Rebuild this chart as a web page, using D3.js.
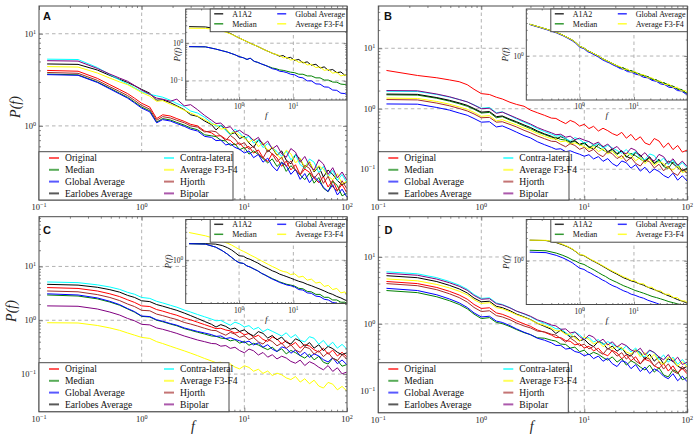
<!DOCTYPE html>
<html><head><meta charset="utf-8">
<script src="https://cdn.jsdelivr.net/npm/d3@7"></script>
<style>body{margin:0;background:#fff}svg{display:block}</style>
</head><body><svg id="chart" width="699" height="442"></svg>
<script>
// ---------- DATA ----------
const freq = [0.12,0.24,0.37,0.49,0.61,0.73,0.85,1.0,1.2,1.4,1.6,1.9,2.2,2.6,3.0,3.5,4.1,4.8,5.3,5.9,6.6,7.3,8.1,9.0,10,11.1,12.3,13.7,15.2,16.9,18.7,20.8,23.1,25.6,28.4,31.5,35,38.8,43.1,47.8,53.1,58.9,65.4,72.6,80.6,89.5,99.3];
const insetFreq = [0.12,0.24,0.37,0.49,0.61,0.73,0.85,1.0,1.2,1.4,1.6,1.9,2.2,2.6,3.0,3.5,4.1,4.8,5.6,6.5,7.6,8.9,10.5,12.6,15,18,21.5,26,31,37,44,53,63,75,89,100];
const seriesNames = ["Original","Median","Global Average","Earlobes Average","Contra-lateral","Average F3-F4","Hjorth","Bipolar"];
const seriesColors = ["#ff0000","#008000","#0000ff","#000000","#00ffff","#ffff00","#a52a2a","#800080"];
const insetNames = ["A1A2","Median","Global Average","Average F3-F4"];
const insetColors = ["#000000","#008000","#0000ff","#ffff00"];
const majorTicks = [0.01,0.1,1,10,100];
const panelLetters = ["A","B","C","D"];

// Panel A
const aOriginal = [4.00,3.92,3.28,2.80,2.48,2.24,2.00,1.76,1.60,1.20,1.32,1.28,1.20,1.12,1.04,1.00,0.88,0.84,0.775,0.784,0.717,0.696,0.623,0.655,0.570,0.599,0.507,0.549,0.453,0.411,0.501,0.449,0.364,0.415,0.333,0.379,0.295,0.340,0.314,0.270,0.242,0.282,0.217,0.257,0.199,0.231,0.190];
const aMedian = [3.65,3.58,3.00,2.56,2.26,2.04,1.82,1.60,1.46,1.10,1.20,1.16,1.09,1.02,0.95,0.91,0.80,0.78,0.765,0.699,0.686,0.614,0.640,0.551,0.584,0.494,0.535,0.488,0.442,0.396,0.439,0.363,0.405,0.321,0.370,0.332,0.294,0.261,0.307,0.239,0.275,0.211,0.193,0.251,0.225,0.174,0.186];
const aGlobal = [3.60,3.54,2.96,2.52,2.22,2.00,1.78,1.56,1.42,1.08,1.17,1.13,1.06,0.99,0.92,0.88,0.77,0.75,0.692,0.700,0.621,0.640,0.585,0.557,0.509,0.535,0.452,0.490,0.404,0.447,0.367,0.325,0.401,0.371,0.298,0.338,0.263,0.304,0.242,0.281,0.252,0.216,0.194,0.230,0.178,0.206,0.170];
const aEarlobes = [4.70,4.65,4.04,3.53,3.20,2.96,2.73,2.49,2.26,1.90,1.92,1.79,1.65,1.50,1.32,1.27,1.13,1.03,0.905,1.010,0.923,0.811,0.845,0.727,0.771,0.652,0.584,0.707,0.645,0.523,0.580,0.479,0.535,0.424,0.388,0.488,0.438,0.345,0.405,0.316,0.363,0.279,0.332,0.298,0.255,0.230,0.245];
const aContra = [5.30,5.25,4.30,3.60,3.15,2.85,2.60,2.35,2.20,2.12,2.05,1.90,1.75,1.62,1.45,1.38,1.24,1.08,0.997,1.008,0.894,0.801,0.921,0.842,0.733,0.770,0.651,0.705,0.582,0.644,0.578,0.528,0.468,0.534,0.429,0.487,0.379,0.348,0.437,0.404,0.311,0.363,0.279,0.330,0.256,0.297,0.244];
const aF3F4 = [4.40,4.35,3.75,3.30,3.00,2.80,2.55,2.30,2.10,1.85,1.88,1.72,1.62,1.48,1.38,1.28,1.17,1.05,1.030,0.923,0.941,0.826,0.861,0.786,0.741,0.665,0.720,0.595,0.657,0.533,0.591,0.488,0.433,0.545,0.498,0.396,0.446,0.352,0.413,0.322,0.370,0.338,0.285,0.260,0.303,0.234,0.250];
const aHjorth = [3.80,3.72,3.12,2.66,2.36,2.13,1.90,1.67,1.52,1.15,1.26,1.22,1.15,1.08,1.00,0.97,0.86,0.88,0.863,0.774,0.693,0.788,0.722,0.621,0.659,0.557,0.604,0.499,0.447,0.551,0.495,0.409,0.457,0.363,0.417,0.332,0.295,0.374,0.346,0.270,0.310,0.238,0.283,0.218,0.196,0.254,0.209];
const aBipolar = [5.10,5.05,4.20,3.65,3.30,3.05,2.75,2.45,2.20,2.00,1.95,1.85,1.95,1.65,1.70,1.50,1.30,1.15,1.061,1.073,0.952,0.981,0.853,0.897,0.820,0.781,0.693,0.751,0.620,0.685,0.562,0.615,0.498,0.457,0.568,0.519,0.404,0.466,0.370,0.331,0.430,0.386,0.297,0.352,0.273,0.316,0.260];
const aInA1A2 = [2.75,2.70,2.45,2.20,1.95,1.75,1.55,1.38,1.22,1.10,1.00,0.90,0.82,0.73,0.66,0.60,0.54,0.50,0.45,0.47,0.40,0.42,0.35,0.37,0.30,0.32,0.26,0.275,0.22,0.235,0.19,0.20,0.165,0.172,0.14,0.15];
const aInMedian = [0.81,0.80,0.70,0.63,0.58,0.53,0.49,0.44,0.41,0.37,0.40,0.33,0.31,0.28,0.26,0.24,0.22,0.21,0.195,0.19,0.18,0.17,0.165,0.15,0.15,0.135,0.135,0.12,0.12,0.105,0.105,0.093,0.092,0.082,0.08,0.074];
const aInGlobal = [0.81,0.80,0.70,0.63,0.58,0.53,0.49,0.44,0.41,0.37,0.40,0.33,0.31,0.28,0.26,0.235,0.21,0.20,0.18,0.175,0.165,0.15,0.145,0.125,0.12,0.10,0.10,0.083,0.082,0.069,0.068,0.057,0.056,0.047,0.046,0.041];
const aInF3F4 = [2.50,2.48,2.30,2.10,1.90,1.72,1.55,1.38,1.22,1.10,1.00,0.90,0.82,0.73,0.66,0.60,0.54,0.50,0.47,0.41,0.42,0.36,0.37,0.31,0.32,0.265,0.275,0.225,0.235,0.19,0.20,0.16,0.17,0.135,0.145,0.125];

// Panel B
const bOriginal = [4.30,3.55,3.25,3.00,2.80,2.50,2.10,1.78,1.72,1.55,1.45,1.28,1.18,1.10,0.95,0.86,0.78,0.700,0.692,0.624,0.568,0.641,0.596,0.517,0.553,0.470,0.513,0.428,0.476,0.434,0.389,0.361,0.407,0.326,0.377,0.302,0.344,0.272,0.253,0.322,0.293,0.228,0.272,0.211,0.247,0.192,0.207];
const bMedian = [1.70,1.68,1.49,1.34,1.21,1.10,0.98,0.85,0.87,0.71,0.74,0.65,0.59,0.52,0.47,0.415,0.375,0.340,0.336,0.311,0.303,0.276,0.290,0.251,0.269,0.228,0.249,0.231,0.208,0.189,0.211,0.175,0.198,0.158,0.183,0.167,0.147,0.132,0.156,0.123,0.142,0.111,0.103,0.132,0.120,0.093,0.100];
const bGlobal = [1.20,1.19,1.05,0.95,0.85,0.78,0.69,0.60,0.61,0.50,0.52,0.46,0.41,0.36,0.33,0.285,0.255,0.230,0.214,0.218,0.195,0.202,0.188,0.177,0.164,0.174,0.148,0.162,0.135,0.150,0.124,0.112,0.137,0.128,0.104,0.119,0.093,0.108,0.087,0.101,0.092,0.079,0.072,0.086,0.066,0.078,0.064];
const bEarlobes = [1.75,1.73,1.53,1.38,1.25,1.14,1.01,0.88,0.90,0.74,0.76,0.67,0.61,0.54,0.49,0.43,0.385,0.350,0.312,0.346,0.321,0.284,0.298,0.258,0.277,0.235,0.214,0.257,0.238,0.195,0.217,0.181,0.203,0.163,0.151,0.189,0.172,0.136,0.161,0.126,0.146,0.114,0.136,0.124,0.106,0.096,0.103];
const bContra = [1.95,1.93,1.72,1.56,1.42,1.30,1.16,1.02,1.05,0.86,0.89,0.77,0.68,0.60,0.54,0.47,0.42,0.380,0.353,0.360,0.321,0.293,0.334,0.310,0.272,0.288,0.245,0.267,0.223,0.248,0.226,0.204,0.184,0.212,0.171,0.196,0.154,0.143,0.179,0.168,0.130,0.153,0.119,0.141,0.110,0.129,0.106];
const bF3F4 = [1.50,1.48,1.32,1.19,1.07,0.98,0.87,0.75,0.77,0.63,0.66,0.59,0.54,0.48,0.44,0.39,0.35,0.320,0.316,0.285,0.293,0.260,0.273,0.253,0.236,0.215,0.235,0.196,0.218,0.178,0.198,0.165,0.149,0.186,0.172,0.138,0.157,0.124,0.147,0.116,0.134,0.124,0.104,0.097,0.113,0.088,0.094];
const bHjorth = [1.42,1.40,1.24,1.12,1.01,0.92,0.82,0.71,0.72,0.60,0.61,0.55,0.50,0.44,0.40,0.355,0.32,0.290,0.287,0.258,0.235,0.266,0.247,0.214,0.229,0.195,0.213,0.177,0.161,0.197,0.180,0.150,0.168,0.135,0.156,0.125,0.113,0.142,0.133,0.105,0.121,0.094,0.113,0.088,0.079,0.102,0.086];
const bBipolar = [2.00,1.98,1.75,1.58,1.42,1.30,1.15,1.00,1.02,0.84,0.88,0.78,0.70,0.62,0.56,0.49,0.44,0.400,0.372,0.379,0.338,0.352,0.308,0.326,0.303,0.286,0.258,0.281,0.234,0.261,0.215,0.238,0.194,0.180,0.223,0.206,0.162,0.188,0.151,0.137,0.176,0.161,0.125,0.149,0.116,0.136,0.112];
const bInA1A2 = [3.80,3.10,2.70,2.40,2.15,1.95,1.75,1.50,1.40,1.25,1.18,1.08,1.00,0.90,0.84,0.78,0.72,0.67,0.62,0.60,0.55,0.54,0.50,0.47,0.44,0.42,0.38,0.365,0.33,0.32,0.29,0.28,0.25,0.245,0.215,0.21];
const bInMedian = [3.80,3.10,2.70,2.40,2.15,1.95,1.75,1.50,1.40,1.25,1.18,1.08,1.00,0.90,0.84,0.78,0.72,0.67,0.62,0.60,0.55,0.54,0.50,0.47,0.44,0.42,0.38,0.365,0.33,0.32,0.29,0.28,0.25,0.245,0.215,0.21];
const bInGlobal = [3.75,3.05,2.65,2.35,2.10,1.90,1.70,1.45,1.36,1.20,1.14,1.04,0.96,0.86,0.80,0.75,0.69,0.64,0.59,0.57,0.52,0.51,0.47,0.45,0.41,0.40,0.36,0.345,0.31,0.30,0.27,0.265,0.235,0.23,0.205,0.20];
const bInF3F4 = [3.80,3.10,2.70,2.40,2.15,1.95,1.75,1.50,1.40,1.25,1.18,1.08,1.00,0.90,0.84,0.78,0.72,0.67,0.64,0.57,0.58,0.51,0.52,0.45,0.46,0.40,0.40,0.35,0.35,0.30,0.31,0.265,0.27,0.23,0.235,0.20];

// Panel C
const cOriginal = [4.05,3.90,3.50,3.10,2.75,2.40,2.15,1.85,1.80,1.58,1.48,1.34,1.24,1.10,1.02,0.92,0.83,0.750,0.698,0.710,0.659,0.635,0.578,0.612,0.536,0.569,0.483,0.527,0.440,0.404,0.489,0.446,0.364,0.418,0.338,0.387,0.304,0.353,0.331,0.283,0.257,0.302,0.234,0.279,0.217,0.254,0.210];
const cMedian = [2.95,2.82,2.50,2.18,1.90,1.62,1.42,1.18,1.15,1.00,0.94,0.85,0.79,0.70,0.65,0.60,0.555,0.510,0.504,0.467,0.454,0.414,0.435,0.376,0.403,0.343,0.374,0.347,0.312,0.284,0.316,0.263,0.296,0.237,0.275,0.250,0.220,0.198,0.235,0.184,0.213,0.166,0.154,0.198,0.180,0.140,0.150];
const cGlobal = [3.10,2.95,2.60,2.25,1.95,1.65,1.45,1.20,1.17,1.02,0.96,0.87,0.81,0.72,0.67,0.62,0.58,0.540,0.502,0.511,0.457,0.475,0.441,0.416,0.386,0.409,0.348,0.380,0.316,0.352,0.291,0.262,0.321,0.301,0.244,0.279,0.219,0.254,0.204,0.238,0.217,0.185,0.168,0.201,0.156,0.183,0.151];
const cEarlobes = [4.65,4.50,4.10,3.70,3.33,2.90,2.66,2.30,2.22,1.96,1.83,1.66,1.53,1.36,1.22,1.08,0.95,0.840,0.748,0.830,0.769,0.681,0.716,0.620,0.664,0.564,0.513,0.616,0.571,0.467,0.521,0.433,0.488,0.391,0.362,0.453,0.412,0.327,0.386,0.303,0.351,0.273,0.327,0.297,0.254,0.230,0.248];
const cContra = [5.15,5.00,4.55,4.15,3.75,3.30,3.05,2.65,2.55,2.25,2.10,1.90,1.75,1.55,1.42,1.28,1.16,1.050,0.977,0.994,0.888,0.809,0.923,0.857,0.751,0.796,0.676,0.738,0.615,0.685,0.624,0.565,0.509,0.585,0.474,0.542,0.425,0.396,0.495,0.463,0.359,0.422,0.328,0.391,0.303,0.356,0.294];
const cF3F4 = [0.90,0.89,0.80,0.72,0.65,0.58,0.53,0.48,0.46,0.40,0.37,0.33,0.30,0.27,0.245,0.22,0.195,0.175,0.163,0.166,0.148,0.154,0.135,0.125,0.143,0.133,0.113,0.123,0.103,0.114,0.094,0.104,0.097,0.085,0.079,0.090,0.071,0.082,0.066,0.077,0.060,0.055,0.070,0.065,0.051,0.059,0.049];
const cHjorth = [3.50,3.38,3.00,2.65,2.32,2.00,1.80,1.53,1.50,1.30,1.22,1.11,1.03,0.91,0.85,0.78,0.71,0.650,0.642,0.579,0.527,0.595,0.554,0.480,0.514,0.437,0.476,0.397,0.361,0.442,0.403,0.335,0.378,0.302,0.350,0.280,0.253,0.319,0.299,0.235,0.272,0.211,0.253,0.196,0.178,0.229,0.192];
const cBipolar = [1.85,1.82,1.62,1.42,1.25,1.08,0.98,0.84,0.82,0.72,0.68,0.62,0.57,0.51,0.47,0.43,0.40,0.370,0.366,0.330,0.339,0.300,0.315,0.273,0.249,0.292,0.271,0.226,0.252,0.206,0.229,0.191,0.215,0.199,0.172,0.159,0.182,0.144,0.170,0.155,0.134,0.120,0.144,0.112,0.131,0.101,0.109];
const cInA1A2 = [2.25,2.25,2.20,2.05,1.85,1.65,1.45,1.25,1.22,1.10,1.05,0.95,0.88,0.78,0.72,0.66,0.60,0.56,0.51,0.48,0.45,0.42,0.39,0.36,0.34,0.31,0.29,0.265,0.245,0.225,0.205,0.19,0.172,0.16,0.145,0.138];
const cInMedian = [2.25,2.20,1.90,1.60,1.35,1.15,1.00,0.89,0.86,0.76,0.72,0.65,0.60,0.53,0.49,0.45,0.41,0.38,0.35,0.33,0.31,0.30,0.285,0.255,0.25,0.22,0.215,0.19,0.19,0.165,0.165,0.145,0.145,0.13,0.13,0.12];
const cInGlobal = [2.25,2.20,1.90,1.60,1.35,1.15,1.00,0.89,0.86,0.76,0.72,0.65,0.60,0.53,0.49,0.44,0.40,0.37,0.34,0.32,0.30,0.29,0.275,0.24,0.235,0.205,0.20,0.175,0.17,0.15,0.145,0.128,0.124,0.11,0.107,0.10];
const cInF3F4 = [3.87,3.30,2.85,2.55,2.30,2.10,1.90,1.71,1.55,1.42,1.30,1.18,1.08,0.97,0.89,0.81,0.74,0.68,0.62,0.58,0.56,0.50,0.52,0.44,0.46,0.38,0.40,0.33,0.345,0.28,0.295,0.24,0.255,0.205,0.215,0.175];

// Panel D
const dOriginal = [4.30,4.00,3.50,3.07,2.70,2.34,1.95,1.70,1.74,1.46,1.39,1.25,1.11,1.00,0.92,0.81,0.75,0.680,0.623,0.624,0.562,0.549,0.485,0.505,0.436,0.463,0.394,0.432,0.360,0.333,0.402,0.367,0.301,0.346,0.280,0.322,0.254,0.295,0.277,0.237,0.216,0.254,0.197,0.236,0.184,0.216,0.180];
const dMedian = [3.15,2.93,2.54,2.22,1.95,1.68,1.40,1.20,1.24,1.05,1.01,0.91,0.82,0.74,0.69,0.62,0.61,0.570,0.554,0.499,0.492,0.434,0.449,0.384,0.404,0.344,0.376,0.351,0.314,0.287,0.321,0.268,0.302,0.242,0.281,0.257,0.226,0.204,0.242,0.190,0.221,0.172,0.161,0.206,0.189,0.146,0.158];
const dGlobal = [3.40,3.15,2.72,2.36,2.06,1.76,1.46,1.27,1.30,1.10,1.05,0.94,0.84,0.75,0.69,0.61,0.57,0.520,0.476,0.477,0.420,0.430,0.386,0.371,0.333,0.354,0.302,0.330,0.276,0.307,0.254,0.230,0.281,0.265,0.214,0.246,0.194,0.226,0.181,0.212,0.194,0.165,0.151,0.180,0.141,0.165,0.137];
const dEarlobes = [5.25,4.90,4.29,3.77,3.33,2.90,2.43,2.14,2.18,1.83,1.75,1.57,1.40,1.27,1.16,1.02,0.92,0.830,0.717,0.807,0.726,0.632,0.654,0.559,0.588,0.500,0.457,0.548,0.511,0.417,0.467,0.390,0.440,0.353,0.330,0.409,0.374,0.297,0.352,0.277,0.322,0.251,0.300,0.275,0.234,0.213,0.231];
const dContra = [6.00,5.60,4.90,4.30,3.80,3.30,2.75,2.40,2.45,2.05,1.95,1.75,1.55,1.40,1.28,1.12,1.02,0.920,0.843,0.845,0.742,0.656,0.760,0.684,0.590,0.627,0.534,0.584,0.488,0.544,0.497,0.450,0.407,0.468,0.379,0.436,0.343,0.320,0.399,0.374,0.293,0.343,0.267,0.319,0.249,0.293,0.243];
const dF3F4 = [4.70,4.40,3.88,3.45,3.08,2.72,2.30,2.02,2.07,1.75,1.68,1.52,1.37,1.25,1.15,1.02,0.95,0.860,0.788,0.789,0.694,0.710,0.613,0.551,0.639,0.586,0.499,0.546,0.456,0.508,0.421,0.464,0.438,0.380,0.354,0.408,0.321,0.373,0.299,0.350,0.273,0.249,0.321,0.298,0.233,0.273,0.227];
const dHjorth = [4.00,3.72,3.24,2.82,2.47,2.12,1.76,1.53,1.57,1.33,1.27,1.15,1.03,0.93,0.87,0.78,0.76,0.700,0.680,0.605,0.533,0.613,0.552,0.471,0.496,0.422,0.462,0.386,0.352,0.431,0.394,0.329,0.371,0.298,0.345,0.278,0.251,0.316,0.297,0.234,0.272,0.211,0.253,0.197,0.180,0.232,0.195];
const dBipolar = [5.70,5.33,4.67,4.12,3.65,3.18,2.66,2.33,2.38,2.00,1.92,1.73,1.55,1.42,1.30,1.15,1.06,0.960,0.933,0.829,0.840,0.732,0.756,0.646,0.579,0.680,0.634,0.529,0.591,0.483,0.540,0.451,0.509,0.473,0.408,0.381,0.433,0.344,0.407,0.372,0.321,0.290,0.348,0.271,0.318,0.247,0.267];
const dInA1A2 = [2.70,2.65,2.40,2.15,1.95,1.75,1.55,1.34,1.28,1.15,1.05,0.95,0.87,0.78,0.71,0.64,0.58,0.53,0.48,0.44,0.41,0.38,0.36,0.33,0.31,0.28,0.26,0.24,0.22,0.20,0.185,0.17,0.155,0.145,0.135,0.13];
const dInMedian = [1.66,1.62,1.45,1.30,1.17,1.05,0.98,0.89,0.84,0.76,0.70,0.63,0.57,0.51,0.47,0.42,0.385,0.355,0.325,0.30,0.28,0.26,0.24,0.225,0.21,0.195,0.18,0.17,0.16,0.15,0.14,0.133,0.126,0.12,0.115,0.11];
const dInGlobal = [1.52,1.48,1.30,1.15,1.02,0.91,0.80,0.70,0.66,0.59,0.55,0.49,0.45,0.40,0.37,0.33,0.30,0.28,0.255,0.235,0.22,0.20,0.19,0.175,0.165,0.15,0.14,0.13,0.12,0.112,0.105,0.098,0.093,0.088,0.084,0.08];
const dInF3F4 = [2.70,2.68,2.45,2.20,1.98,1.78,1.57,1.36,1.30,1.17,1.07,0.97,0.89,0.80,0.73,0.66,0.60,0.55,0.50,0.46,0.43,0.39,0.38,0.33,0.33,0.28,0.28,0.235,0.235,0.20,0.20,0.17,0.17,0.145,0.145,0.125];

const yDomains = [[0.157,20],[0.031,50],[0.02,84],[0.047,40]];
const insetYDomains = [[0.031,8.1],[0.158,7.2],[0.122,7.3],[0.122,7.3]];
const xDomain = [0.1,100];
const insetXDomain = [0.104,96];

// ---------- LAYOUT ----------
const panels = [
  {series:[aOriginal,aMedian,aGlobal,aEarlobes,aContra,aF3F4,aHjorth,aBipolar], inset:[aInA1A2,aInMedian,aInGlobal,aInF3F4],
   box:{x:39,y:6,w:308,h:194}, ib:{x:185.7,y:9,w:161,h:91}, leg:{w:194,h:48.3}, iyl:177, yLab:[15,107], xLab:null, insetYLabels:[1,0.1], letter:[43,19.5]},
  {series:[bOriginal,bMedian,bGlobal,bEarlobes,bContra,bF3F4,bHjorth,bBipolar], inset:[bInA1A2,bInMedian,bInGlobal,bInF3F4],
   box:{x:378.3,y:6,w:309,h:194}, ib:{x:526.3,y:9,w:161,h:91}, leg:{w:190.7,h:48.3}, iyl:505, yLab:null, xLab:null, insetYLabels:[1], letter:[384,19.5]},
  {series:[cOriginal,cMedian,cGlobal,cEarlobes,cContra,cF3F4,cHjorth,cBipolar], inset:[cInA1A2,cInMedian,cInGlobal,cInF3F4],
   box:{x:39,y:216.7,w:308,h:195}, ib:{x:185.7,y:219.5,w:161,h:84}, leg:{w:190,h:49}, iyl:168, yLab:[11,311], xLab:[193,431], insetYLabels:[1], letter:[43,234]},
  {series:[dOriginal,dMedian,dGlobal,dEarlobes,dContra,dF3F4,dHjorth,dBipolar], inset:[dInA1A2,dInMedian,dInGlobal,dInF3F4],
   box:{x:378.3,y:216.7,w:309,h:196}, ib:{x:526.3,y:219.5,w:161,h:85}, leg:{w:190,h:50}, iyl:506, yLab:null, xLab:[531.7,431], insetYLabels:[1], letter:[384.5,234]}
];

const SERIF = "Liberation Serif, DejaVu Serif, serif";
const SANS = "Liberation Sans, Arial, sans-serif";
const svg = d3.select("#chart");
svg.append("rect").attr("width",699).attr("height",442).attr("fill","#fff");

function minorVals(d){const o=[];for(let e=-3;e<=3;e++)for(let k=2;k<=9;k++){const v=k*Math.pow(10,e);if(v>d[0]&&v<d[1])o.push(v);}return o;}
function majorVals(d){return majorTicks.filter(v=>v>=d[0]*0.999&&v<=d[1]*1.001);}
function innerMajor(d){return majorTicks.filter(v=>v>d[0]*1.001&&v<d[1]*0.999);}
function supText(sel,v){
  const e=Math.round(Math.log10(v));
  sel.text("10");
  sel.append("tspan").attr("dy","-0.48em").attr("font-size","0.72em").text(e<0?"\u2212"+(-e):String(e));
}
function drawGrid(g,x,y,w,h){
  const gg=g.append("g").attr("stroke","#a0a0a0").attr("stroke-width",0.8).attr("stroke-dasharray","3.5,3");
  innerMajor(x.domain()).forEach(v=>gg.append("line").attr("x1",x(v)).attr("x2",x(v)).attr("y1",0).attr("y2",h));
  innerMajor(y.domain()).forEach(v=>gg.append("line").attr("y1",y(v)).attr("y2",y(v)).attr("x1",0).attr("x2",w));
}
function drawTicks(g,x,y,w,h,maj,min){
  const xd=x.domain(), yd=y.domain();
  const specs=[
    [d3.axisBottom(x),`translate(0,${h})`,majorVals(xd),maj],[d3.axisBottom(x),`translate(0,${h})`,minorVals(xd),min],
    [d3.axisTop(x),`translate(0,0)`,majorVals(xd),maj],[d3.axisTop(x),`translate(0,0)`,minorVals(xd),min],
    [d3.axisLeft(y),`translate(0,0)`,majorVals(yd),maj],[d3.axisLeft(y),`translate(0,0)`,minorVals(yd),min],
    [d3.axisRight(y),`translate(${w},0)`,majorVals(yd),maj],[d3.axisRight(y),`translate(${w},0)`,minorVals(yd),min]
  ];
  specs.forEach(([ax,tr,vals,len])=>{
    const a=g.append("g").attr("transform",tr).call(ax.tickValues(vals).tickSizeInner(-len).tickSizeOuter(0).tickFormat(()=>""));
    a.select(".domain").remove();
    a.selectAll(".tick line").attr("stroke","#555").attr("stroke-width",0.7);
    a.selectAll(".tick text").remove();
  });
  g.append("rect").attr("width",w).attr("height",h).attr("fill","none").attr("stroke","#4a4a4a").attr("stroke-width",1);
}
function drawLegend(g,bx,by,bw,bh,names,colors,o){
  const lg=g.append("g").attr("transform",`translate(${bx},${by})`);
  lg.append("rect").attr("width",bw).attr("height",bh).attr("fill","#fff").attr("stroke","#4a4a4a").attr("stroke-width",1);
  names.forEach((n,i)=>{
    const col=Math.floor(i/o.rows), row=i%o.rows;
    const cx=col===0?0:o.col2, cy=o.row0+row*o.dy;
    lg.append("line").attr("x1",cx+o.l0).attr("x2",cx+o.l1).attr("y1",cy).attr("y2",cy)
      .attr("stroke",colors[i]).attr("stroke-width",o.lw).attr("stroke-opacity",o.op);
    lg.append("text").attr("x",cx+o.tx).attr("y",cy).attr("dy","0.34em").attr("font-family",SERIF)
      .attr("font-size",o.fs).attr("fill","#111").text(n);
  });
}

panels.forEach((p,pi)=>{
  const b=p.box;
  const g=svg.append("g").attr("transform",`translate(${b.x},${b.y})`);
  const x=d3.scaleLog().domain(xDomain).range([0,b.w]);
  const y=d3.scaleLog().domain(yDomains[pi]).range([b.h,0]);
  drawGrid(g,x,y,b.w,b.h);
  g.append("clipPath").attr("id","cm"+pi).append("rect").attr("width",b.w).attr("height",b.h);
  const line=d3.line().x((d,i)=>x(freq[i])).y(d=>y(d));
  const pl=g.append("g").attr("clip-path",`url(#cm${pi})`);
  p.series.forEach((s,si)=>{
    pl.append("path").datum(s.slice(0,freq.length)).attr("d",line).attr("fill","none")
      .attr("stroke",seriesColors[si]).attr("stroke-width",1).attr("stroke-linejoin","round");
  });
  drawTicks(g,x,y,b.w,b.h,4,2);
  majorVals(x.domain()).forEach(v=>{
    supText(g.append("text").attr("x",x(v)).attr("y",b.h+10).attr("text-anchor","middle")
      .attr("font-family",SERIF).attr("font-size",8.5).attr("fill","#222"),v);
  });
  majorVals(y.domain()).forEach(v=>{
    supText(g.append("text").attr("x",-3).attr("y",y(v)+3).attr("text-anchor","end")
      .attr("font-family",SERIF).attr("font-size",8.5).attr("fill","#222"),v);
  });
  drawLegend(g,0,b.h-p.leg.h,p.leg.w,p.leg.h,seriesNames,seriesColors,
    {rows:4,row0:6.3,dy:11.8,col2:115,l0:10,l1:20,tx:26,lw:2,op:0.65,fs:9.6});
  if(p.yLab){
    svg.append("text").attr("transform",`translate(${p.yLab[0]},${p.yLab[1]}) rotate(-90)`).attr("text-anchor","middle")
      .attr("dy","0.35em").attr("font-family",SERIF).attr("font-style","italic").attr("font-size",14).attr("fill","#222")
      .text("P(f)");
  }
  if(p.xLab){
    svg.append("text").attr("x",p.xLab[0]).attr("y",p.xLab[1]).attr("text-anchor","middle")
      .attr("font-family",SERIF).attr("font-style","italic").attr("font-size",14).attr("fill","#222").text("f");
  }
  const ib=p.ib;
  const ig=svg.append("g").attr("transform",`translate(${ib.x},${ib.y})`);
  ig.append("rect").attr("width",ib.w).attr("height",ib.h).attr("fill","#fff");
  const ix=d3.scaleLog().domain(insetXDomain).range([0,ib.w]);
  const iy=d3.scaleLog().domain(insetYDomains[pi]).range([ib.h,0]);
  drawGrid(ig,ix,iy,ib.w,ib.h);
  ig.append("clipPath").attr("id","ci"+pi).append("rect").attr("width",ib.w).attr("height",ib.h);
  const iline=d3.line().x((d,i)=>ix(insetFreq[i])).y(d=>iy(d));
  const ipl=ig.append("g").attr("clip-path",`url(#ci${pi})`);
  p.inset.forEach((s,si)=>{
    ipl.append("path").datum(s.slice(0,insetFreq.length)).attr("d",iline).attr("fill","none")
      .attr("stroke",insetColors[si]).attr("stroke-width",1).attr("stroke-linejoin","round");
  });
  drawTicks(ig,ix,iy,ib.w,ib.h,3,1.5);
  [1,10].forEach(v=>{
    supText(ig.append("text").attr("x",ix(v)).attr("y",ib.h+9).attr("text-anchor","middle")
      .attr("font-family",SERIF).attr("font-size",7.5).attr("fill","#222"),v);
  });
  p.insetYLabels.forEach(v=>{
    supText(ig.append("text").attr("x",-2.5).attr("y",iy(v)+2.6).attr("text-anchor","end")
      .attr("font-family",SERIF).attr("font-size",7.5).attr("fill","#222"),v);
  });
  drawLegend(ig,24.5,0,ib.w-24.5,22.7,insetNames,insetColors,
    {rows:2,row0:4.8,dy:10,col2:63,l0:4,l1:13,tx:22,lw:1.5,op:0.8,fs:8});
  svg.append("text").attr("transform",`translate(${p.iyl},${ib.y+ib.h/2}) rotate(-90)`).attr("text-anchor","middle")
    .attr("dy","0.35em").attr("font-family",SERIF).attr("font-style","italic").attr("font-size",9).attr("fill","#222").text("P(f)");
  svg.append("text").attr("x",ib.x+ib.w/2).attr("y",ib.y+ib.h+18).attr("text-anchor","middle")
    .attr("font-family",SERIF).attr("font-style","italic").attr("font-size",9).attr("fill","#222").text("f");
  svg.append("text").attr("x",p.letter[0]).attr("y",p.letter[1]).attr("font-family",SANS).attr("font-weight","bold")
    .attr("font-size",11).attr("fill","#111").text(panelLetters[pi]);
});
</script></body></html>
